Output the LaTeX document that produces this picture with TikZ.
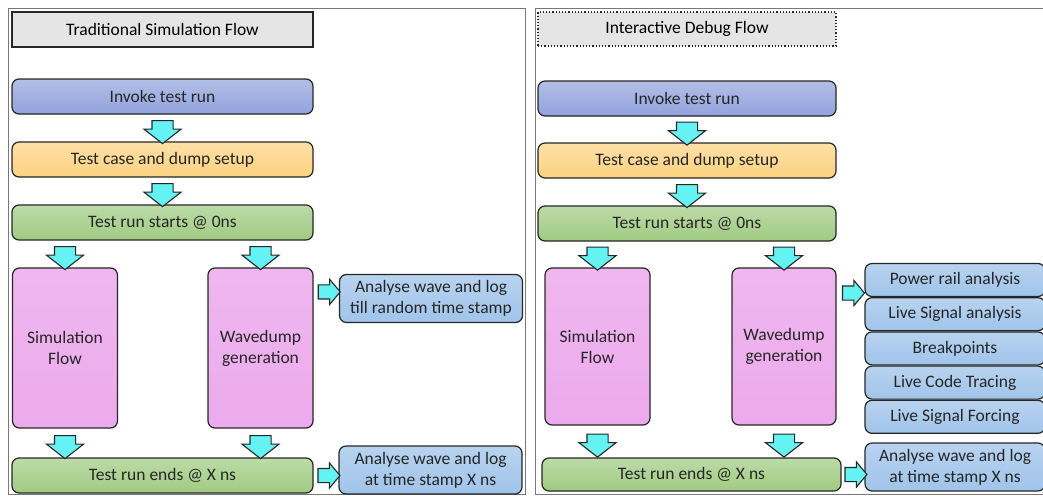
\documentclass[tikz,border=0pt]{standalone}
\usepackage{fontspec}
\setmainfont{Carlito}
\usetikzlibrary{positioning, shapes.arrows}

\definecolor{fillblue}{RGB}{146,163,221}
\definecolor{fillorange}{RGB}{252,210,128}
\definecolor{fillgreen}{RGB}{160,203,130}
\definecolor{fillpink}{RGB}{236,170,236}
\definecolor{filllight}{RGB}{160,196,234}
\definecolor{fillcyan}{RGB}{100,242,242}
\definecolor{framegray}{RGB}{120,120,120}

\tikzset{
	box/.style={draw=black!85, rounded corners=7pt, line width=1.2pt, inner sep=2pt, align=center, text=black!85},
	wide/.style={box, minimum width=301pt, minimum height=35pt},
	tall/.style={box, minimum width=105pt, minimum height=160pt, top color=fillpink!85!white, bottom color=fillpink},
	side/.style={box, minimum width=183pt, minimum height=48pt, top color=filllight!75!white, bottom color=filllight},
	item/.style={box, minimum width=180pt, minimum height=33pt, top color=filllight!75!white, bottom color=filllight},
	title/.style={draw=black!85, fill=black!10, minimum width=301pt, minimum height=35pt, line width=1.2pt},
	fatarrow/.style={single arrow, draw=black!85, fill=fillcyan, line width=1.1pt, inner xsep=0pt, inner ysep=10pt,
		minimum height=23pt, single arrow head extend=8pt, single arrow tip angle=104},
	sidearrow/.style={fatarrow, inner ysep=6.5pt, minimum height=22pt, single arrow head extend=5.5pt, single arrow tip angle=100},
}

\begin{document}
\begin{tikzpicture}[x=1pt, y=-1pt, font=\fontsize{17.5}{21}\selectfont]
	\useasboundingbox (0,0) rectangle (1043,496);
	% panels
	\draw[framegray, line width=0.8pt] (8,8) rectangle (525,494);
	\draw[framegray, line width=0.8pt] (535,8) rectangle (1046,494);

	% traditional flow
	\node (titleL) [title] at (162.5,29.5) {Traditional Simulation Flow};
	\node (invL) [wide, top color=fillblue!70!white, bottom color=fillblue] at (162.5,96.5) {Invoke test run};
	\node (setupL) [wide, top color=fillorange!70!white, bottom color=fillorange] at (162.5,159.5) {Test case and dump setup};
	\node (startL) [wide, top color=fillgreen!70!white, bottom color=fillgreen] at (162.5,222.5) {Test run starts @ 0ns};
	\node (simL) [tall] at (65,348) {Simulation\\Flow};
	\node (waveL) [tall] at (260.5,348) {Wavedump\\generation};
	\node (endL) [wide, top color=fillgreen!70!white, bottom color=fillgreen] at (162.5,475.5) {Test run ends @ X ns};
	\node (randL) [side] at (431,298.5) {Analyse wave and log\\till random time stamp};
	\node (stampL) [side] at (430.5,470) {Analyse wave and log\\at time stamp X ns};
	\path
		(invL) -- node [fatarrow, rotate=-90] {} (setupL)
		(setupL) -- node [fatarrow, rotate=-90] {} (startL)
		(startL.south -| simL) -- node [fatarrow, rotate=-90] {} (simL)
		(startL.south -| waveL) -- node [fatarrow, rotate=-90] {} (waveL)
		(simL) -- node [fatarrow, rotate=-90] {} (endL.north -| simL)
		(waveL) -- node [fatarrow, rotate=-90] {} (endL.north -| waveL)
		(waveL.east |- randL.north) ++(0,18) coordinate (w1)
		(w1) -- node [sidearrow] {} (w1 -| randL.west)
		(endL) -- node [sidearrow] {} (stampL.west |- endL)
	;

	% interactive flow
	\node (titleR) [title, dotted, minimum width=298pt, minimum height=34pt] at (687,29) {Interactive Debug Flow};
	\node (invR) [wide, minimum width=298pt, top color=fillblue!70!white, bottom color=fillblue] at (687,98.5) {Invoke test run};
	\node (setupR) [wide, minimum width=298pt, top color=fillorange!70!white, bottom color=fillorange] at (687,160.5) {Test case and dump setup};
	\node (startR) [wide, minimum width=298pt, top color=fillgreen!70!white, bottom color=fillgreen] at (687,223.5) {Test run starts @ 0ns};
	\node (simR) [tall, minimum height=157pt] at (597.5,346.5) {Simulation\\Flow};
	\node (waveR) [tall, minimum width=104pt, minimum height=157pt] at (784,346.5) {Wavedump\\generation};
	\node (endR) [wide, minimum width=299pt, minimum height=33pt, top color=fillgreen!70!white, bottom color=fillgreen] at (691.5,474.5) {Test run ends @ X ns};
	\node (power) [item] at (955,280) {Power rail analysis};
	\node (sigan) [item, below=0pt of power] {Live Signal analysis};
	\node (brk) [item, below=0pt of sigan] {Breakpoints};
	\node (trace) [item, below=0pt of brk] {Live Code Tracing};
	\node (force) [item, below=0pt of trace] {Live Signal Forcing};
	\node (stampR) [side, minimum width=180pt] at (955,467) {Analyse wave and log\\at time stamp X ns};
	\path
		(invR) -- node [fatarrow, rotate=-90] {} (setupR)
		(setupR) -- node [fatarrow, rotate=-90] {} (startR)
		(startR.south -| simR) -- node [fatarrow, rotate=-90] {} (simR)
		(startR.south -| waveR) -- node [fatarrow, rotate=-90] {} (waveR)
		(simR) -- node [fatarrow, rotate=-90] {} (endR.north -| simR)
		(waveR) -- node [fatarrow, rotate=-90] {} (endR.north -| waveR)
		(waveR.east |- power) ++(0,13) coordinate (w2)
		(w2) -- node [sidearrow] {} (w2 -| power.west)
		(endR) -- node [sidearrow] {} (stampR.west |- endR)
	;
\end{tikzpicture}
\end{document}
